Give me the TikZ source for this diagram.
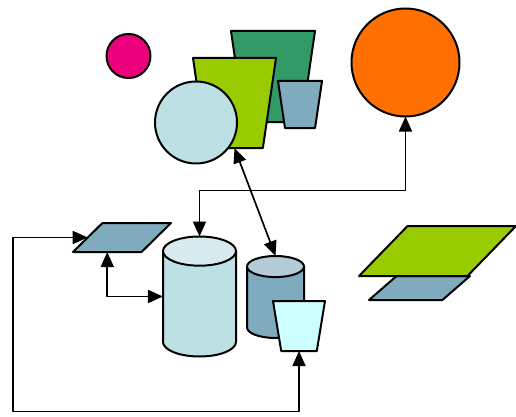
\documentclass[tikz,border=0pt]{standalone}
\usetikzlibrary{shapes.geometric,arrows.meta}
\definecolor{pinkc}{RGB}{236,0,124}
\definecolor{darkgreenc}{RGB}{51,153,102}
\definecolor{limec}{RGB}{153,204,0}
\definecolor{steelc}{RGB}{128,170,190}
\definecolor{steeltopc}{RGB}{179,204,216}
\definecolor{icec}{RGB}{188,224,228}
\definecolor{icetopc}{RGB}{215,235,238}
\definecolor{orangec}{RGB}{255,112,0}
\definecolor{cyanc}{RGB}{204,255,255}
\begin{document}
\begin{tikzpicture}[x=1pt,y=-1pt,line join=round,line cap=round,>={Triangle[length=15pt,width=13pt]},line width=1.7pt]
    \tikzset{shp/.style={draw=black,line width=2pt,inner sep=0pt,outer sep=0pt},
             disc/.style={shp,circle,minimum size=#1},
             trap/.style={shp,inner sep=1pt,trapezium,trapezium angle=77,trapezium stretches=true,shape border rotate=180},
             slab/.style={shp,inner sep=1pt,trapezium,trapezium stretches=true},
             drum/.style={shp,inner sep=#1,minimum width=2*#1,cylinder,shape border rotate=90,cylinder uses custom fill,anchor=shape center}}
    \useasboundingbox (0,0) rectangle (516,417);
    % top group
    \node[disc=44,fill=pinkc] (pink) at (128.5,56) {};
    \node[trap,fill=darkgreenc,minimum width=84,minimum height=91] (dg) at (273,76.5) {};
    \node[trap,fill=limec,minimum width=83,minimum height=90] (yg) at (234.5,103) {};
    \node[trap,fill=steelc,minimum width=44,minimum height=47] (bt) at (300,104.5) {};
    \node[disc=82,fill=icec] (ice) at (196,122.5) {};
    \node[disc=108,fill=orangec] (orange) at (405.5,62.5) {};
    % bottom group
    \node[slab,trapezium left angle=53,trapezium right angle=127,fill=steelc,minimum width=98,minimum height=29] (para) at (122,237.5) {};
    \node[drum=36.5pt,aspect=0.4,cylinder body fill=icec,cylinder end fill=icetopc,minimum height=120] (bigcyl) at (199.5,296.5) {};
    \node[drum=28.5pt,aspect=0.37,cylinder body fill=steelc,cylinder end fill=steeltopc,minimum height=82] (smallcyl) at (275.5,297) {};
    \node[trap,fill=cyanc,minimum width=52,minimum height=50] (cyan) at (299,326) {};
    \node[slab,trapezium left angle=59,trapezium right angle=121,fill=steelc,minimum width=101,minimum height=24] (flat) at (419.5,288) {};
    \node[slab,trapezium left angle=51,trapezium right angle=129,fill=limec,minimum width=157,minimum height=50] (plate) at (437.5,251) {};
    % connectors
    \draw[<->] (orange.270) -- ++(0,74) -| (bigcyl.90);
    \draw[<->] (yg.270) -- (smallcyl.90);
    \draw[<->] (para.bottom side) |- (bigcyl.shape center -| bigcyl.180);
    \draw[<->] (para.left side) -- ++(-75,0) -- ++(0,174) -| (cyan.270);
\end{tikzpicture}
\end{document}
